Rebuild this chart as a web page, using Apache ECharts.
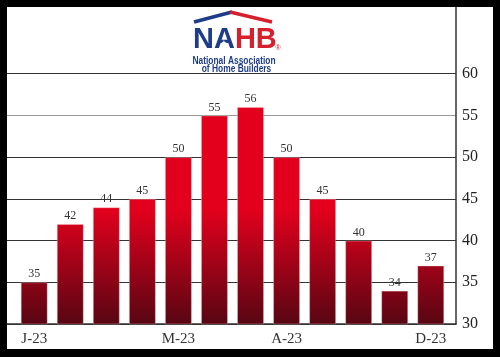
<!DOCTYPE html>
<html>
<head>
<meta charset="utf-8">
<script src="https://cdn.jsdelivr.net/npm/echarts@6/dist/echarts.min.js"></script>
<style>
html,body{margin:0;padding:0;background:#000;}
#wrap{position:relative;width:500px;height:357px;background:#000;}
#panel{position:absolute;left:7px;top:7px;width:486px;height:342px;background:#fff;}
#c{position:absolute;left:0;top:0;width:500px;height:357px;}
</style>
</head>
<body>
<div id="wrap"><div id="panel"></div><div id="c"></div></div>
<script>
const categories = ['J-23','F-23','M-23','A-23','M-23','J-23','J-23','A-23','S-23','O-23','N-23','D-23'];
const values = [35, 42, 44, 45, 50, 55, 56, 50, 45, 40, 34, 37];
const xTickIndex = [0, 4, 7, 11];
const xTickLabels = ['J-23', 'M-23', 'A-23', 'D-23'];
const yTickLabels = [30, 35, 40, 45, 50, 55, 60];

const chart = echarts.init(document.getElementById('c'), null, {renderer: 'canvas'});
const serif = '"Liberation Serif", "DejaVu Serif", serif';
const sans = '"Liberation Sans", Arial, sans-serif';
const blue = '#1f3c88';
const red = '#d6202e';

const option = {
  backgroundColor: 'transparent',
  animation: false,
  grid: {left: 7, right: 44, top: 7, bottom: 33},
  xAxis: {
    type: 'value',
    min: -0.755,
    max: 11.7,
    z: 0,
    axisLine: {show: true, onZero: false, lineStyle: {color: '#333', width: 1.5}},
    axisTick: {show: false},
    splitLine: {show: false},
    axisLabel: {
      customValues: xTickIndex,
      formatter: function (v) {
        const i = xTickIndex.indexOf(Math.round(v));
        return i >= 0 ? xTickLabels[i] : '';
      },
      margin: 8,
      fontFamily: serif,
      fontSize: 15,
      color: '#333'
    }
  },
  yAxis: {
    type: 'value',
    position: 'right',
    min: 30,
    max: 68,
    interval: 5,
    z: 0,
    axisLine: {show: true, onZero: false, lineStyle: {color: '#333', width: 1.5}},
    axisTick: {show: false},
    splitLine: {
      show: true,
      showMaxLine: false,
      lineStyle: {
        width: 1,
        color: ['#333', '#333', '#333', '#333', '#333', '#9a9a9a', '#333', 'rgba(0,0,0,0)', 'rgba(0,0,0,0)']
      }
    },
    axisLabel: {
      margin: 6,
      fontFamily: serif,
      fontSize: 16,
      color: '#222',
      formatter: function (v) {
        return yTickLabels.indexOf(v) >= 0 ? String(v) : '';
      }
    }
  },
  series: [{
    type: 'bar',
    z: 10,
    barWidth: 27,
    data: values.map((v, i) => [i, v]),
    itemStyle: {
      color: new echarts.graphic.LinearGradient(0, 210, 0, 324, [
        {offset: 0, color: '#e2001c'},
        {offset: 1, color: '#580613'}
      ], true),
      borderColor: 'rgba(255,200,200,0.35)',
      borderWidth: 1
    },
    label: {
      show: true,
      position: 'top',
      distance: 2,
      fontFamily: serif,
      fontSize: 12,
      color: '#333',
      formatter: p => String(p.value[1])
    }
  }],
  graphic: [
    {type: 'polyline', shape: {points: [[194, 22], [232, 12]]}, style: {stroke: blue, lineWidth: 3.5, fill: null}},
    {type: 'polyline', shape: {points: [[230, 12], [272, 22]]}, style: {stroke: red, lineWidth: 3.5, fill: null}},
    {
      type: 'text', left: 193, top: 25,
      style: {
        text: '{b|NA}{r|HB}',
        rich: {
          b: {fill: blue, fontFamily: sans, fontWeight: 'bold', fontSize: 29},
          r: {fill: red, fontFamily: sans, fontWeight: 'bold', fontSize: 29}
        }
      }
    },
    {type: 'text', x: 224, y: 43, style: {text: '★', fill: '#fff', fontSize: 7, fontFamily: '"DejaVu Sans", sans-serif', align: 'center', verticalAlign: 'middle'}},
    {type: 'text', x: 278, y: 48, style: {text: '®', fill: red, fontSize: 7, fontFamily: sans, align: 'center', verticalAlign: 'middle'}},
    {
      type: 'text', x: 234, y: 55.5, scaleX: 0.8,
      style: {text: 'National Association', fill: blue, fontFamily: sans, fontWeight: 'bold', fontSize: 10.5, align: 'center', verticalAlign: 'top'}
    },
    {
      type: 'text', x: 236.5, y: 64, scaleX: 0.8,
      style: {text: 'of Home Builders', fill: blue, fontFamily: sans, fontWeight: 'bold', fontSize: 10.5, align: 'center', verticalAlign: 'top'}
    }
  ]
};
chart.setOption(option);
</script>
</body>
</html>
